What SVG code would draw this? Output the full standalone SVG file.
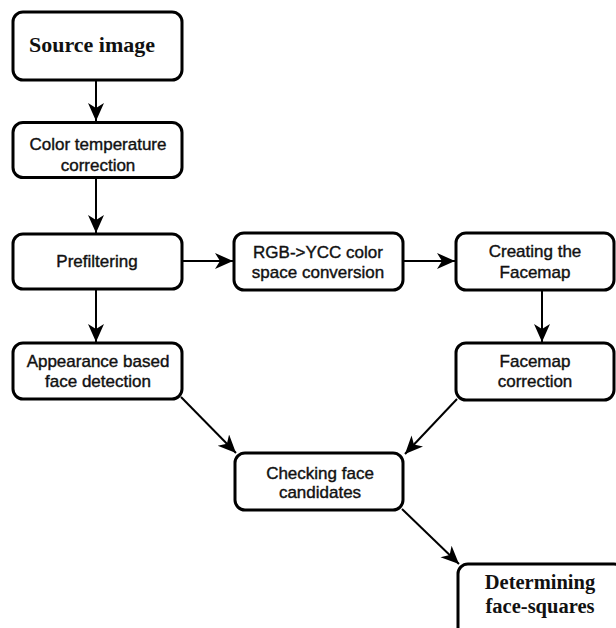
<svg xmlns="http://www.w3.org/2000/svg" width="616" height="628" viewBox="0 0 616 628">
<defs>
<style>
.box{fill:#fff;stroke:#000;stroke-width:3}
.t{font-family:"Liberation Sans",Arial,sans-serif;font-size:17px;fill:#111;text-anchor:middle;stroke:#111;stroke-width:0.4}
.s{font-family:"Liberation Serif","Times New Roman",serif;font-size:22px;font-weight:bold;fill:#111;text-anchor:middle}
.d{font-size:20.5px}
.c{stroke:#000;stroke-width:2;fill:none;marker-end:url(#ah)}
</style>
<marker id="ah" markerUnits="userSpaceOnUse" markerWidth="19" markerHeight="17" refX="18" refY="8" orient="auto">
<path d="M0,0 L18,8 L0,16 L5,8 Z" fill="#000"/>
</marker>
</defs>
<rect width="616" height="628" fill="#fff"/>
<g id="connectors">
<line class="c" x1="96" y1="80" x2="96" y2="121"/>
<line class="c" x1="96" y1="178" x2="96" y2="233"/>
<line class="c" x1="182" y1="261" x2="233" y2="261"/>
<line class="c" x1="96" y1="289" x2="96" y2="342"/>
<line class="c" x1="403" y1="261" x2="455" y2="261"/>
<line class="c" x1="542" y1="290" x2="542" y2="342"/>
<line class="c" x1="181" y1="397" x2="236" y2="453"/>
<line class="c" x1="457" y1="399" x2="405" y2="454"/>
<line class="c" x1="402" y1="509" x2="459" y2="564"/>
</g>
<g id="source">
<rect class="box" x="13" y="12" width="169" height="68" rx="10"/>
<text class="s" x="92" y="52">Source image</text>
</g>
<g id="colortemp">
<rect class="box" x="13" y="122.5" width="169" height="55" rx="10"/>
<text class="t" x="98" y="149.5">Color temperature</text>
<text class="t" x="98" y="170.5">correction</text>
</g>
<g id="prefilter">
<rect class="box" x="13" y="234" width="169" height="55" rx="10"/>
<text class="t" x="97" y="267">Prefiltering</text>
</g>
<g id="appearance">
<rect class="box" x="13" y="343" width="169" height="56" rx="10"/>
<text class="t" x="98" y="367">Appearance based</text>
<text class="t" x="98" y="386.5">face detection</text>
</g>
<g id="rgb">
<rect class="box" x="234" y="233" width="169" height="57" rx="10"/>
<text class="t" x="318" y="258">RGB-&gt;YCC color</text>
<text class="t" x="318" y="278">space conversion</text>
</g>
<g id="facemap">
<rect class="box" x="456" y="233" width="158" height="57" rx="10"/>
<text class="t" x="535" y="257">Creating the</text>
<text class="t" x="535" y="277.5">Facemap</text>
</g>
<g id="facemapcorr">
<rect class="box" x="456" y="343" width="158" height="57" rx="10"/>
<text class="t" x="535" y="367">Facemap</text>
<text class="t" x="535" y="387">correction</text>
</g>
<g id="checking">
<rect class="box" x="235" y="453" width="168" height="57" rx="10"/>
<text class="t" x="320" y="479">Checking face</text>
<text class="t" x="320" y="498">candidates</text>
</g>
<g id="determining">
<rect class="box" x="458" y="564" width="166" height="80" rx="10"/>
<text class="s d" x="540" y="589">Determining</text>
<text class="s d" x="540" y="612.5">face-squares</text>
</g>
</svg>
